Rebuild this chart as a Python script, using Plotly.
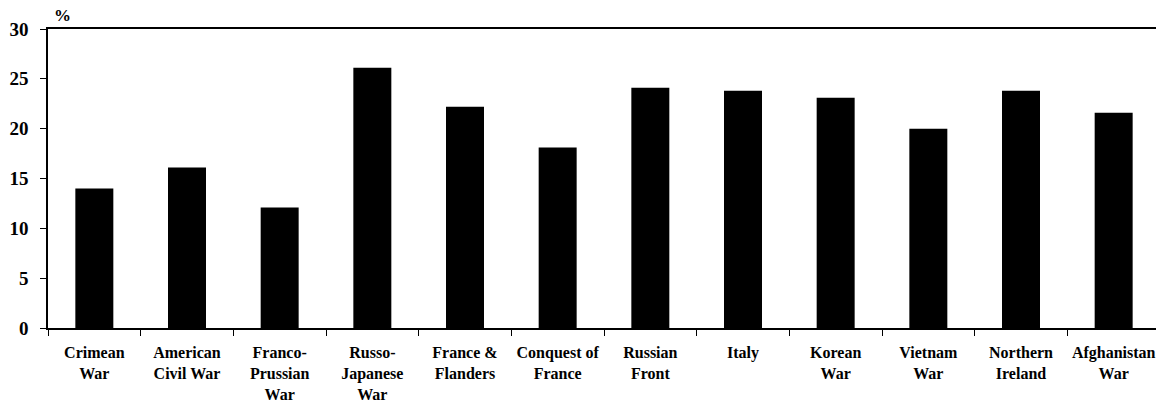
import plotly.graph_objects as go

categories = ["Crimean<br>War", "American<br>Civil War", "Franco-<br>Prussian<br>War",
              "Russo-<br>Japanese<br>War", "France &<br>Flanders", "Conquest of<br>France",
              "Russian<br>Front", "Italy", "Korean<br>War", "Vietnam<br>War",
              "Northern<br>Ireland", "Afghanistan<br>War"]
values = [14.0, 16.1, 12.1, 26.1, 22.2, 18.1, 24.1, 23.8, 23.1, 20.0, 23.8, 21.6]
y_ticks = [0, 5, 10, 15, 20, 25, 30]

serif = "Times New Roman"

fig = go.Figure(go.Bar(x=categories, y=values, marker=dict(color="black", line=dict(width=0))))

# page body has an 8px default margin, so the figure is sized to fit the 1164x404 window
fig.update_layout(
    width=1156, height=396,
    margin=dict(l=40, r=4, t=21, b=76, autoexpand=False),
    paper_bgcolor="white", plot_bgcolor="white",
    bargap=0.59, showlegend=False,
    font=dict(family=serif, color="black"),
)
fig.update_xaxes(
    type="category", showline=True, linecolor="black", linewidth=1.5, mirror=True,
    ticks="outside", tickson="boundaries", ticklen=6, tickcolor="black", tickwidth=1,
    tickangle=0, automargin=False,
    tickfont=dict(family=serif, size=16, color="black", weight="bold"),
    showgrid=False, ticklabelstandoff=9,
)
fig.update_yaxes(
    range=[0, 30], tickvals=y_ticks, showline=True, linecolor="black", linewidth=1.5, mirror=True,
    ticks="outside", ticklen=6, tickcolor="black", tickwidth=1, automargin=False,
    tickfont=dict(family=serif, size=19, color="black", weight="bold"),
    showgrid=False, zeroline=False, ticklabelstandoff=8,
)
fig.add_annotation(text="%", xref="paper", yref="paper", x=0.0, y=1.0, xshift=4, yshift=2,
                   xanchor="left", yanchor="bottom", showarrow=False,
                   font=dict(family=serif, size=17, color="black", weight="bold"))
fig.write_html("out.html")
